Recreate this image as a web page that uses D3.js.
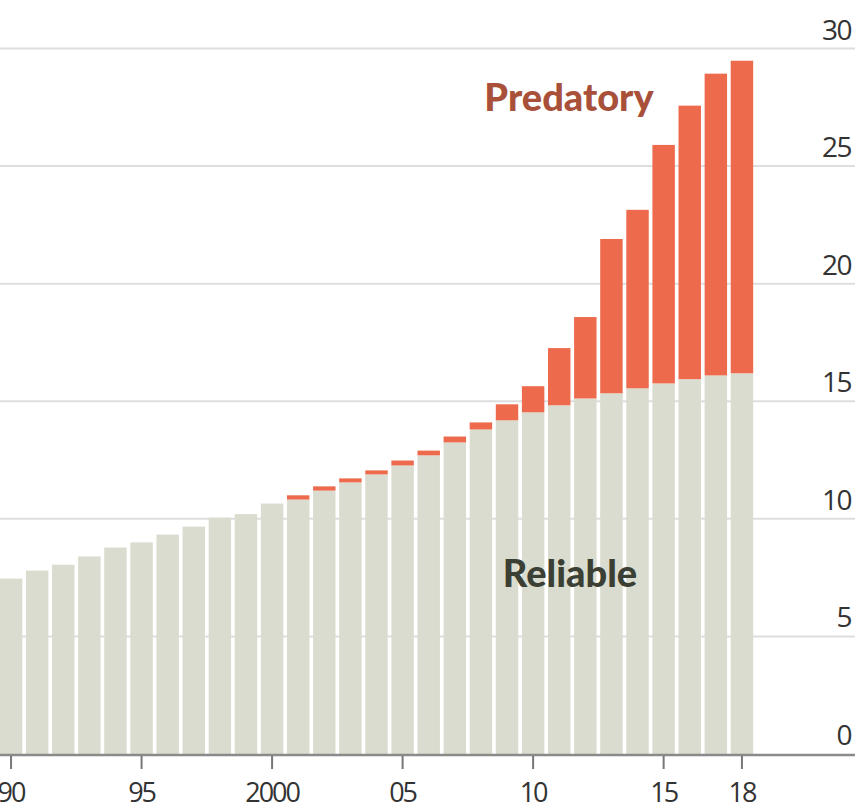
<!DOCTYPE html>
<html><head><meta charset="utf-8">
<script src="https://cdn.jsdelivr.net/npm/d3@7"></script>
<style>body{margin:0;background:#fff}svg{display:block}</style>
</head><body>
<svg id="c" width="857" height="811"></svg>
<script>
const years = d3.range(1990, 2019);
const reliable = [7.46,7.8,8.05,8.4,8.78,9.0,9.33,9.67,10.05,10.2,10.65,10.82,11.2,11.55,11.89,12.27,12.7,13.25,13.8,14.19,14.53,14.83,15.12,15.34,15.55,15.76,15.94,16.1,16.19];
const predatory = [0,0,0,0,0,0,0,0,0,0,0,0.18,0.18,0.17,0.17,0.21,0.2,0.25,0.3,0.68,1.11,2.43,3.46,6.56,7.59,10.14,11.63,12.83,13.29];
const yTicks = [0,5,10,15,20,25,30];
const xTickYears = [1990,1995,2000,2005,2010,2015,2018];
const xTickLabels = ["90","95","2000","05","10","15","18"];

const svg = d3.select("#c");
const x = d3.scaleBand().domain(years).range([-2, 755]).paddingInner(0.14).paddingOuter(0.07);
const y = d3.scaleLinear().domain([0, 30]).range([754, 48.5]);

// gridlines
svg.append("g").selectAll("line").data(yTicks.filter(d => d > 0)).join("line")
  .attr("x1", 0).attr("x2", 855)
  .attr("y1", d => y(d)).attr("y2", d => y(d))
  .attr("stroke", "#dedede").attr("stroke-width", 2);

// y labels
svg.append("g").selectAll("text").data(yTicks).join("text")
  .attr("x", 851).attr("y", d => y(d) - 9)
  .attr("text-anchor", "end")
  .attr("font-family", "'Open Sans', sans-serif").attr("font-size", 28)
  .attr("letter-spacing", -1.5)
  .attr("fill", "#333").text(d => d);

const data = years.map((yr, i) => ({year: yr, r: reliable[i], p: predatory[i]}));
const stack = d3.stack().keys(["r", "p"])(data);
const colors = {r: "#dadccf", p: "#ee6a4c"};

svg.append("g").selectAll("g").data(stack).join("g")
  .attr("fill", s => colors[s.key])
  .selectAll("rect").data(s => s).join("rect")
  .attr("x", d => x(d.data.year)).attr("width", x.bandwidth())
  .attr("y", d => y(d[1])).attr("height", d => Math.max(0, y(d[0]) - y(d[1])));

// axis line
svg.append("line").attr("x1", 0).attr("x2", 855)
  .attr("y1", y(0) + 1).attr("y2", y(0) + 1)
  .attr("stroke", "#8a8a8a").attr("stroke-width", 2.5);

// x ticks
const xt = svg.append("g").selectAll("g").data(xTickYears).join("g")
  .attr("transform", d => `translate(${x(d) + x.bandwidth() / 2},0)`);
xt.append("line").attr("y1", y(0) + 2).attr("y2", y(0) + 15)
  .attr("stroke", "#777").attr("stroke-width", 2);
xt.append("text").attr("y", 802).attr("text-anchor", "middle")
  .attr("font-family", "'Open Sans', sans-serif").attr("font-size", 27)
  .attr("letter-spacing", -2)
  .attr("fill", "#333").text((d, i) => xTickLabels[i]);

// series labels
svg.append("text").attr("x", 569).attr("y", 111).attr("text-anchor", "middle")
  .attr("font-family", "Lato, sans-serif").attr("font-weight", 900).attr("font-size", 38)
  .attr("fill", "#a9503a").text("Predatory");
svg.append("text").attr("x", 570).attr("y", 587).attr("text-anchor", "middle")
  .attr("font-family", "Lato, sans-serif").attr("font-weight", 900).attr("font-size", 38)
  .attr("fill", "#3c3f33").text("Reliable");
</script>
</body></html>
